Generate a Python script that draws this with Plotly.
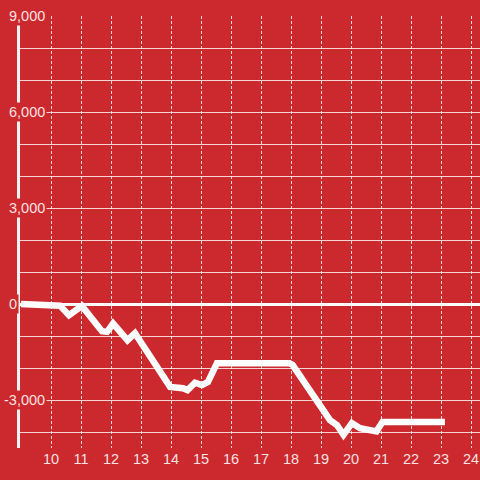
import plotly.graph_objects as go

# data
x_vals = [9.0, 10.3, 10.6, 11.03, 11.7, 11.87, 12.07, 12.55, 12.8, 13.97, 14.4, 14.55,
          14.8, 15.03, 15.23, 15.53, 17.95, 18.05, 19.3, 19.53, 19.75, 20.03, 20.3,
          20.7, 20.85, 21.05, 23.13]
y_vals = [0, -50, -350, -60, -850, -870, -610, -1130, -910, -2590, -2630, -2690,
          -2460, -2530, -2440, -1850, -1850, -1900, -3630, -3780, -4090, -3720, -3880,
          -3940, -3980, -3690, -3690]
x_ticks = list(range(10, 25))
y_label_vals = [9000, 6000, 3000, 0, -3000]
y_label_text = ["9,000", "6,000", "3,000", "0", "-3,000"]

BG = "#CC292E"
GRID = "rgba(255,255,255,0.8)"
TXT = "rgba(255,255,255,0.88)"
FONT = "Liberation Sans, Arial, sans-serif"

fig = go.Figure()
fig.add_trace(go.Scatter(x=x_vals, y=y_vals, mode="lines",
                         line=dict(color="white", width=6.5), hoverinfo="skip"))

fig.update_layout(
    width=480, height=480,
    margin=dict(l=20, r=0, t=16, b=32),
    paper_bgcolor=BG, plot_bgcolor=BG,
    showlegend=False,
    font=dict(family=FONT, size=14.5, color=TXT),
    xaxis=dict(range=[8.9667, 24.3], tickvals=x_ticks, ticktext=[str(v) for v in x_ticks],
               showgrid=True, gridcolor=GRID, gridwidth=1, griddash="3px,2px",
               zeroline=False, showline=False, ticks="",
               tickfont=dict(family=FONT, size=14.5, color=TXT)),
    yaxis=dict(range=[-4500, 9005], dtick=1000, tick0=0, showticklabels=False,
               showgrid=True, gridcolor=GRID, gridwidth=1,
               zeroline=True, zerolinecolor="white", zerolinewidth=3,
               showline=True, linecolor="#F2F2F2", linewidth=3),
)

for v, t in zip(y_label_vals, y_label_text):
    fig.add_annotation(x=0, xref="paper", y=v, yref="y", text=t, showarrow=False,
                       xanchor="left", yanchor="middle",
                       xshift=-13 - (5 if t.startswith("-") else 0),
                       bgcolor=BG, borderpad=1,
                       font=dict(family=FONT, size=14.5, color=TXT))

fig.write_html("out.html", config={"displayModeBar": False},
               post_script="document.body.style.margin='0';document.body.style.overflow='hidden';document.body.style.background='" + BG + "';")
